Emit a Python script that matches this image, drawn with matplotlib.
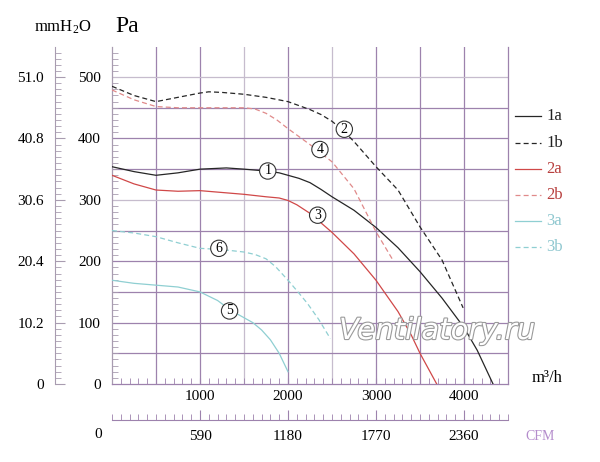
import matplotlib
matplotlib.use("Agg")
import matplotlib.pyplot as plt
from matplotlib.lines import Line2D
import matplotlib.patheffects as pe
import numpy as np

plt.rcParams['font.family'] = ['Liberation Serif', 'DejaVu Serif']
plt.rcParams['mathtext.default'] = 'regular'

# ---------------- data ----------------
x_1a = [0, 250, 500, 750, 1000, 1300, 1500, 1750, 1900, 2000, 2125, 2250, 2375, 2500, 2750, 3000, 3250, 3500, 3750, 4000, 4150, 4330]
y_1a = [354, 346, 340, 344, 350, 352, 350, 347, 344, 340, 335, 328, 317, 305, 283, 255, 222, 183, 140, 92, 55, 0]

x_1b = [0, 250, 500, 750, 1000, 1100, 1250, 1500, 1750, 2000, 2250, 2375, 2500, 2625, 2750, 3000, 3250, 3500, 3750, 3990]
y_1b = [485, 470, 460, 467, 474, 476, 475, 472, 467, 460, 447, 439, 428, 413, 395, 354, 316, 256, 202, 124]

x_2a = [0, 250, 500, 750, 1000, 1250, 1500, 1750, 1900, 2000, 2100, 2250, 2500, 2750, 3000, 3250, 3400, 3500, 3690]
y_2a = [340, 326, 316, 314, 315, 312, 309, 305, 303, 299, 292, 278, 247, 212, 169, 118, 80, 50, 0]

x_2b = [0, 250, 500, 750, 1000, 1250, 1500, 1625, 1750, 1875, 2000, 2250, 2500, 2750, 3000, 3200]
y_2b = [479, 463, 452, 450, 450, 450, 450, 448, 441, 430, 416, 390, 362, 318, 248, 200]

x_3a = [0, 250, 500, 750, 1000, 1200, 1350, 1500, 1600, 1700, 1800, 1900, 1950, 2000]
y_3a = [169, 164, 161, 158, 150, 136, 120, 108, 100, 88, 72, 50, 35, 20]

x_3b = [0, 250, 500, 750, 1000, 1250, 1500, 1625, 1750, 1860, 2000, 2125, 2222, 2350, 2481]
y_3b = [250, 246, 240, 230, 221, 219, 215, 211, 204, 191, 169, 148, 131, 105, 74]

series_names = ['1a', '1b', '2a', '2b', '3a', '3b']
curve_labels = ['1', '2', '3', '4', '5', '6']
curve_label_x = [1770, 2640, 2337, 2363, 1336, 1214]
curve_label_y = [347, 415, 275, 382, 119, 221]

pa_ticks = [0, 100, 200, 300, 400, 500]
mmh2o_labels = ['0', '10.2', '20.4', '30.6', '40.8', '51.0']
flow_ticks = [1000, 2000, 3000, 4000]
flow_labels = ['1000', '2000', '3000', '4000']
cfm_ticks = [1000, 2000, 3000, 4000]
cfm_labels = ['590', '1180', '1770', '2360']

# ---------------- figure ----------------
W, H = 600, 462
fig = plt.figure(figsize=(6, 4.62), dpi=100)

def fx(px):
    return px / W

def fy(py):
    return 1 - py / H

L, R, T, B = 112, 508, 47, 384
ax = fig.add_axes([fx(L), fy(B), (R - L) / W, (B - T) / H])
ax.set_xlim(0, 4500)
ax.set_ylim(0, 549)

purple = '#9d82ad'
light = '#c6bccd'
vgrid = [500, 1000, 1500, 2000, 2500, 3000, 3500, 4000]
vcol = [purple, purple, light, purple, light, purple, purple, purple]
for v, c in zip(vgrid, vcol):
    ax.axvline(v, color=c, lw=0.9, zorder=1)
hgrid = [50, 100, 150, 200, 250, 300, 350, 400, 450, 500]
hcol = [purple, purple, purple, purple, purple, light, purple, purple, purple, light]
for h, c in zip(hgrid, hcol):
    ax.axhline(h, color=c, lw=0.9, zorder=1)

ax.spines['top'].set_visible(False)
ax.spines['right'].set_color(purple)
ax.spines['bottom'].set_color(purple)
ax.spines['left'].set_color('#a89cb0')
for s in ax.spines.values():
    s.set_linewidth(0.9)

ax.set_xticks(flow_ticks)
ax.set_xticklabels(flow_labels)
ax.set_xticks(np.arange(0, 4501, 100), minor=True)
ax.set_yticks(pa_ticks)
ax.set_yticklabels([str(v) for v in pa_ticks])
ax.set_yticks(np.arange(0, 550, 10), minor=True)
ax.tick_params(axis='x', which='both', direction='in', length=4, color=purple, labelsize=11, pad=4)
ax.tick_params(axis='y', which='both', direction='in', length=4, color='#a89cb0', labelsize=11, pad=8)
ax.tick_params(axis='y', which='major', length=0)

black = '#262626'
red = '#d04848'
red_d = '#e08a8a'
cyan = '#8fcfd2'
dash = (0, (4, 2.5))
styles = {
    '1a': (black, '-'), '1b': (black, dash),
    '2a': (red, '-'), '2b': (red_d, dash),
    '3a': (cyan, '-'), '3b': (cyan, dash),
}
data = {'1a': (x_1a, y_1a), '1b': (x_1b, y_1b), '2a': (x_2a, y_2a),
        '2b': (x_2b, y_2b), '3a': (x_3a, y_3a), '3b': (x_3b, y_3b)}
for name in series_names:
    c, ls = styles[name]
    xs, ys = data[name]
    ax.plot(xs, ys, color=c, ls=ls, lw=0.9, zorder=3, solid_joinstyle='round')

for t, lx, ly in zip(curve_labels, curve_label_x, curve_label_y):
    ax.text(lx, ly, t, ha='center', va='center', fontsize=10, zorder=5,
            bbox=dict(boxstyle='circle,pad=0.12', fc='white', ec='#333333', lw=0.8))

# ---------------- mmH2O axis ----------------
axm = fig.add_axes([fx(55), fy(B), 0.0001, (B - T) / H])
axm.set_ylim(0, 549)
axm.set_xlim(0, 1)
for s in ['top', 'right', 'bottom']:
    axm.spines[s].set_visible(False)
axm.spines['left'].set_color('#a89cb0')
axm.set_xticks([])
axm.set_yticks(pa_ticks)
axm.set_yticklabels(mmh2o_labels)
axm.set_yticks(np.arange(0, 550, 10), minor=True)
axm.tick_params(axis='y', which='minor', direction='in', length=4, color='#a89cb0')
axm.tick_params(axis='y', which='major', direction='in', length=7, color='#a89cb0', labelsize=11, pad=8)
axm.patch.set_visible(False)

# ---------------- CFM axis ----------------
axc = fig.add_axes([fx(L), fy(420), (R - L) / W, 0.0001])
axc.set_xlim(0, 4500)
axc.set_ylim(0, 1)
for s in ['top', 'right', 'left']:
    axc.spines[s].set_visible(False)
axc.spines['bottom'].set_color(purple)
axc.set_yticks([])
axc.set_xticks(cfm_ticks)
axc.set_xticklabels(cfm_labels)
axc.set_xticks(np.arange(0, 4501, 100), minor=True)
axc.tick_params(axis='x', which='minor', direction='in', length=4, color=purple)
axc.tick_params(axis='x', which='major', direction='in', length=7, color=purple, labelsize=11, pad=7)
axc.patch.set_visible(False)
fig.text(fx(98), fy(435), '0', ha='center', va='center', fontsize=11)
fig.text(fx(540), fy(436), 'CFM', ha='center', va='center', fontsize=10, color='#b48ccc')

# ---------------- units ----------------
fig.text(fx(63), fy(27), 'mmH$_2$O', ha='center', va='center', fontsize=12)
fig.text(fx(127), fy(26), 'Pa', ha='center', va='center', fontsize=17)
fig.text(fx(547), fy(378), 'm³/h', ha='center', va='center', fontsize=12)

# ---------------- legend ----------------
leg_y = [116, 143, 169, 195, 221, 247]
leg_text_col = {'1a': '#222222', '1b': '#222222', '2a': '#b8403f', '2b': '#b8403f',
                '3a': '#90c8d0', '3b': '#90c8d0'}
for name, yy in zip(series_names, leg_y):
    c, ls = styles[name]
    fig.add_artist(Line2D([fx(515), fx(541)], [fy(yy), fy(yy)], color=c, ls=ls, lw=0.9))
    fig.text(fx(546), fy(yy), name, ha='left', va='center', fontsize=12, color=leg_text_col[name])

# ---------------- watermark ----------------
fig.text(fx(437), fy(331), 'Ventilatory.ru', ha='center', va='center', fontsize=21,
         family='DejaVu Sans', style='italic', color='white', zorder=10,
         path_effects=[pe.withStroke(linewidth=1.6, foreground='#9a9a9a')])

fig.savefig('out.png', dpi=100)
